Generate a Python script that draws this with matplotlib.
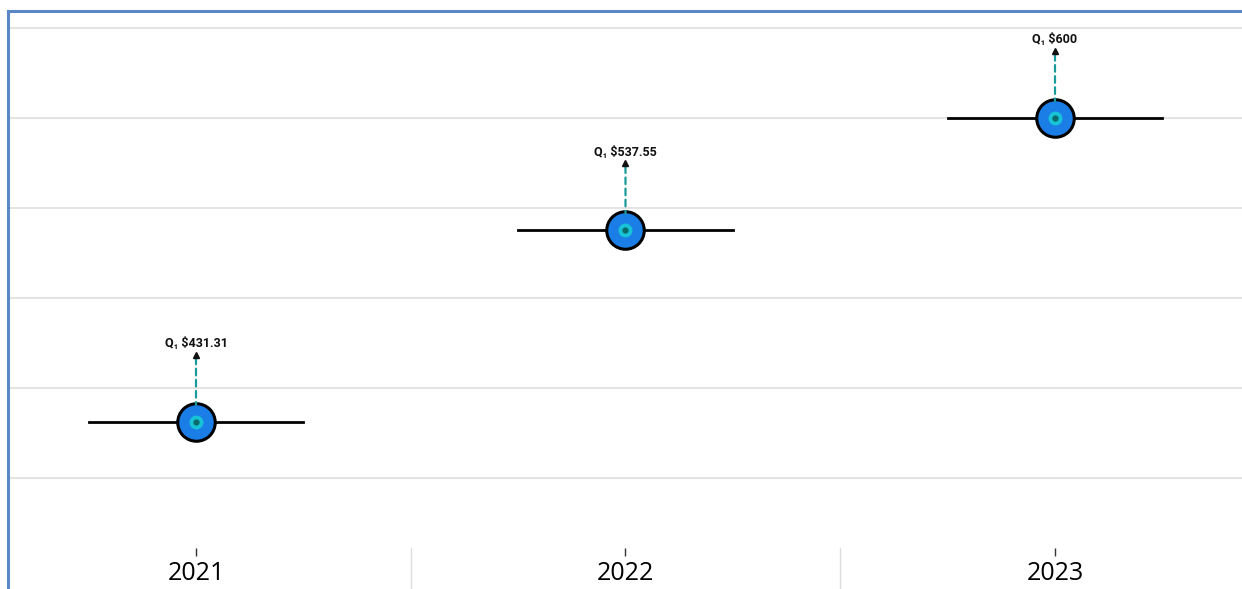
import matplotlib
matplotlib.use("Agg")
import matplotlib.pyplot as plt
from matplotlib.lines import Line2D
from matplotlib.transforms import offset_copy

# quarterly price points per year
years = ["2021", "2022", "2023"]
prices = [431.31, 537.55, 600.0]
labels = ["Q\u2081 $431.31", "Q\u2081 $537.55", "Q\u2081 $600"]
grid_levels = [400, 450, 500, 550, 600, 650]

frame_blue = "#5a87c6"
dot_blue = "#1a7ee6"
dot_cyan = "#17c3d6"
dot_core = "#0b6a6a"
teal = "#1a9a9a"

fig = plt.figure(figsize=(12.42, 5.89), dpi=100)
ax = fig.add_axes([8 / 1242, 1 - 548 / 589, 1 - 8 / 1242, (548 - 11) / 589])

ax.set_xlim(-0.4377, 2.4354)
ax.set_ylim(361.1, 659.4)

for g in grid_levels:
    ax.axhline(g, color="#e4e4e4", lw=1.4, zorder=0)

x = list(range(len(years)))
for i, v in zip(x, prices):
    # horizontal range bar
    ax.plot([i - 0.25, i + 0.25], [v, v], color="black", lw=2, zorder=2)
    # stacked marker: blue disc, cyan ring, dark core
    ax.plot(i, v, "o", ms=27, mfc=dot_blue, mec="black", mew=2.2, zorder=3)
    ax.plot(i, v, "o", ms=10, mfc=dot_cyan, mec="none", zorder=4)
    ax.plot(i, v, "o", ms=4.5, mfc=dot_core, mec="none", zorder=5)

    # dashed leader with small head
    ax.annotate("", xy=(i, v), xytext=(0, 64), textcoords="offset pixels",
                arrowprops=dict(arrowstyle="-", linestyle=(0, (3, 2)), color=teal,
                                lw=1.6, shrinkA=0, shrinkB=12), zorder=6)
    tip = offset_copy(ax.transData, fig=fig, x=0, y=67, units="dots")
    ax.plot(i, v, marker="^", ms=5, color="#111111", transform=tip, zorder=7)

for i, v, s in zip(x, prices, labels):
    ax.annotate(s, xy=(i, v), xytext=(0, 78), textcoords="offset pixels",
                ha="center", va="center", fontsize=9, fontweight="bold",
                family=["Roboto", "DejaVu Sans"], color="#111111")

ax.set_xticks(x)
ax.set_xticklabels(years, fontsize=18, family=["Open Sans", "DejaVu Sans"])
ax.tick_params(axis="x", length=6, width=1, color="#333333", pad=3)
ax.set_yticks([])

# separators between year categories below the plot
for b in [0.5, 1.5]:
    ax.plot([b, b], [0, -0.1], color="#dddddd", lw=1,
            transform=ax.get_xaxis_transform(), clip_on=False)

for side in ["right", "bottom", "left"]:
    ax.spines[side].set_visible(False)
ax.spines["top"].set_color(frame_blue)
ax.spines["top"].set_linewidth(2.2)

# left frame line runs to the bottom edge of the figure
fig.add_artist(Line2D([8 / 1242, 8 / 1242], [0, 1 - 11 / 589],
                      color=frame_blue, lw=2.2, transform=fig.transFigure))

fig.savefig("out.png", dpi=100)
